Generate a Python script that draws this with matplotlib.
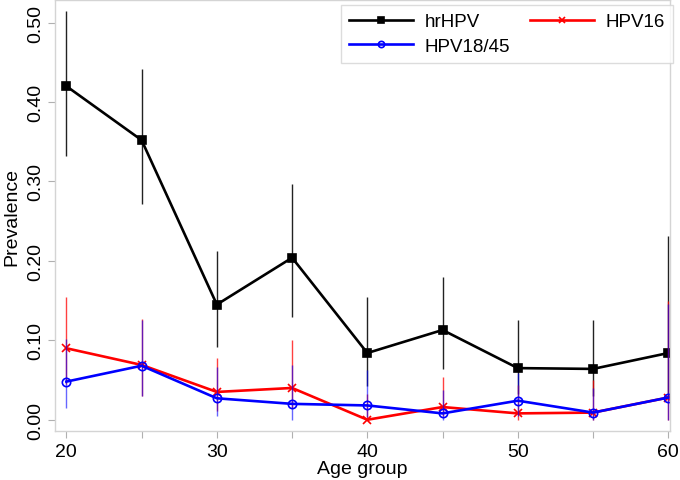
import matplotlib
matplotlib.use("Agg")
import matplotlib.pyplot as plt
import numpy as np

plt.rcParams["font.family"] = ["Liberation Sans", "DejaVu Sans"]

# age groups
ages = [20, 25, 30, 35, 40, 45, 50, 55, 60]

# hrHPV prevalence with 95% CI
hr_prev = [0.420, 0.352, 0.145, 0.204, 0.084, 0.113, 0.065, 0.064, 0.084]
hr_lo = [0.332, 0.272, 0.092, 0.129, 0.042, 0.064, 0.032, 0.030, 0.030]
hr_hi = [0.514, 0.441, 0.213, 0.297, 0.154, 0.180, 0.125, 0.125, 0.231]

# HPV16
h16_prev = [0.090, 0.069, 0.035, 0.040, 0.000, 0.016, 0.008, 0.009, 0.028]
h16_lo = [0.045, 0.030, 0.011, 0.015, 0.000, 0.005, 0.000, 0.000, 0.000]
h16_hi = [0.155, 0.127, 0.078, 0.101, 0.033, 0.054, 0.044, 0.050, 0.149]

# HPV18/45
h18_prev = [0.048, 0.068, 0.027, 0.020, 0.018, 0.008, 0.024, 0.009, 0.028]
h18_lo = [0.015, 0.030, 0.005, 0.000, 0.004, 0.000, 0.005, 0.000, 0.000]
h18_hi = [0.102, 0.125, 0.067, 0.069, 0.063, 0.038, 0.059, 0.040, 0.146]

x_ticks = [20, 30, 40, 50, 60]
x_minor = [25, 35, 45, 55]
y_ticks = [0.0, 0.1, 0.2, 0.3, 0.4, 0.5]
y_labels = ["0.00", "0.10", "0.20", "0.30", "0.40", "0.50"]


def ci_err(prev, lo, hi):
    p = np.asarray(prev)
    return [p - np.asarray(lo), np.asarray(hi) - p]


fig = plt.figure(figsize=(6.8, 4.81), dpi=100)
ax = fig.add_axes([0.081, 0.101, 0.904, 0.897])

series = [
    ("hrHPV", hr_prev, hr_lo, hr_hi, "black", "#222222", 1.0, "s"),
    ("HPV16", h16_prev, h16_lo, h16_hi, "#ff0000", "#ff0000", 0.75, "x"),
    ("HPV18/45", h18_prev, h18_lo, h18_hi, "#0000ff", "#0000ff", 0.6, "o"),
]

handles = {}
for name, prev, lo, hi, col, ecol, ealpha, mk in series:
    ax.errorbar(ages, prev, yerr=ci_err(prev, lo, hi), fmt="none",
                ecolor=ecol, elinewidth=1.0, alpha=ealpha, capsize=0)
    mfc = "none" if mk == "o" else col
    (ln,) = ax.plot(ages, prev, color=col, lw=1.9, marker=mk, ms=6,
                    mfc=mfc, mec=col, mew=1.2, label=name)
    handles[name] = ln

ax.set_xlim(19.25, 60.1)
ax.set_ylim(-0.0147, 0.5285)
ax.set_xticks(x_ticks)
ax.set_xticks(x_minor, minor=True)
ax.set_yticks(y_ticks)
ax.set_yticklabels(y_labels, rotation=90, va="center")

for s in ax.spines.values():
    s.set_color("#d4d4d4")
    s.set_linewidth(1.0)
ax.tick_params(axis="both", which="both", colors="#b0b0b0", labelcolor="black",
               labelsize=14, length=5, width=0.8)
ax.tick_params(axis="x", pad=3)
ax.tick_params(axis="y", pad=3)

ax.set_xlabel("Age group", fontsize=14, labelpad=0)
ax.set_ylabel("Prevalence", fontsize=14, labelpad=5)

order = ["hrHPV", "HPV18/45", "HPV16"]
leg = ax.legend([handles[k] for k in order], order, ncol=2, loc="upper right",
                bbox_to_anchor=(0.99, 0.988), bbox_transform=fig.transFigure,
                fontsize=13.5, frameon=True, fancybox=False, handlelength=3.4,
                handletextpad=0.6, columnspacing=1.1, labelspacing=0.4,
                borderpad=0.45, borderaxespad=0, markerscale=0.75)
leg.get_frame().set_edgecolor("#d4d4d4")
leg.get_frame().set_linewidth(1.0)

fig.savefig("out.png", dpi=100)
